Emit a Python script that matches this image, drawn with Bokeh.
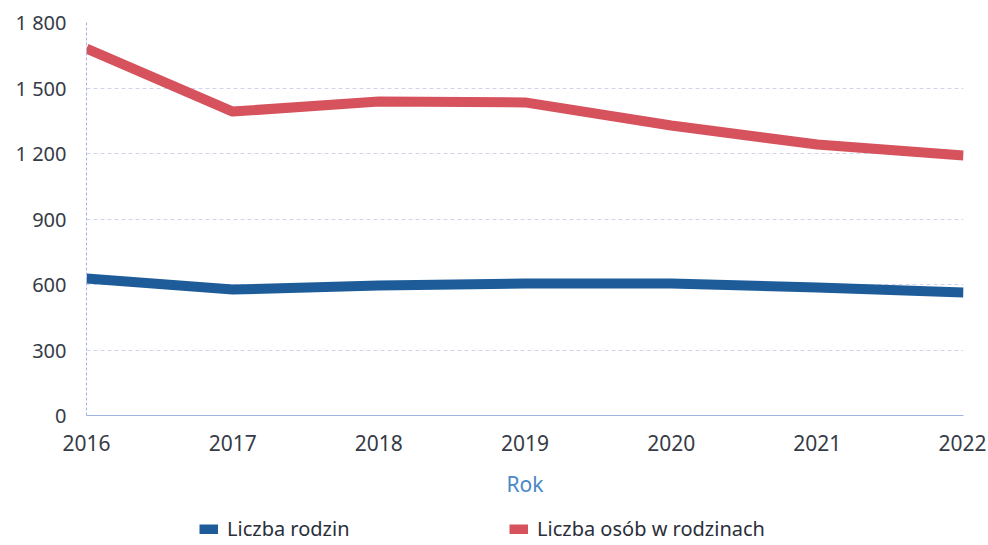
from bokeh.plotting import figure
from bokeh.models import Range1d, FixedTicker, Legend, LegendItem
from bokeh.layouts import column
from bokeh.embed import file_html
from bokeh.resources import INLINE

years = [2016, 2017, 2018, 2019, 2020, 2021, 2022]
rodziny = [627, 577, 595, 605, 605, 586, 563]
osoby = [1681, 1392, 1438, 1434, 1328, 1241, 1191]
y_ticks = [0, 300, 600, 900, 1200, 1500, 1800]
y_tick_labels = ["0", "300", "600", "900", "1 200", "1 500", "1 800"]
series_names = ["Liczba rodzin", "Liczba osób w rodzinach"]
x_title = "Rok"

FONT = "Noto Sans"
BLUE = "#1d5c99"
RED = "#d6525d"
W = 986

p = figure(width=W, height=515, output_backend="svg", toolbar_location=None,
           x_range=Range1d(2016, 2022), y_range=Range1d(0, 1800),
           min_border_left=86, min_border_right=W - 963, min_border_top=22,
           min_border_bottom=100)
p.outline_line_color = None

r1 = p.line(years, rodziny, line_color=BLUE, line_width=10)
r2 = p.line(years, osoby, line_color=RED, line_width=10)

# axes
p.xaxis.ticker = FixedTicker(ticks=years)
p.xaxis.axis_label = x_title
p.xaxis.axis_label_text_font = FONT
p.xaxis.axis_label_text_font_style = "normal"
p.xaxis.axis_label_text_font_size = "21px"
p.xaxis.axis_label_text_color = "#4a88c7"
p.xaxis.axis_label_standoff = 16
p.xaxis.major_label_text_font = FONT
p.xaxis.major_label_text_font_size = "21px"
p.xaxis.major_label_text_color = "#363b46"
p.xaxis.major_label_standoff = 13
p.xaxis.axis_line_color = "#9fb4e0"
p.xaxis.major_tick_line_color = None
p.xaxis.minor_tick_line_color = None

p.yaxis.ticker = FixedTicker(ticks=y_ticks)
p.yaxis.major_label_overrides = {t: l for t, l in zip(y_ticks, y_tick_labels)}
p.yaxis.major_label_text_font = FONT
p.yaxis.major_label_text_font_size = "20px"
p.yaxis.major_label_text_color = "#363b46"
p.yaxis.major_label_standoff = 14
p.yaxis.axis_line_color = "#a8b4e6"
p.yaxis.axis_line_dash = "3 2"
p.yaxis.major_tick_line_color = None
p.yaxis.minor_tick_line_color = None

p.xgrid.grid_line_color = None
p.ygrid.grid_line_color = "#d0d4ee"
p.ygrid.grid_line_dash = "4 3"

# legend row (separate strip below the chart; its frame aligns with the chart frame)
lg = figure(width=W, height=30, output_backend="svg", toolbar_location=None,
            x_range=Range1d(0, 1), y_range=Range1d(0, 1),
            x_axis_type=None, y_axis_type=None,
            min_border_left=86, min_border_right=W - 963, min_border_top=0, min_border_bottom=0)
lg.outline_line_color = None
lr1 = lg.line(years, rodziny, line_color=BLUE, line_width=10)  # outside the range: legend swatch only
lr2 = lg.line(years, osoby, line_color=RED, line_width=10)

leg_kw = dict(orientation="horizontal", glyph_width=19, glyph_height=10,
              label_text_font=FONT, label_text_font_size="20px",
              label_text_color="#2a2f3a", border_line_color=None,
              background_fill_alpha=0, padding=0, margin=0, label_standoff=9)
leg1 = Legend(items=[LegendItem(label=series_names[0], renderers=[lr1])],
              location=(199 - 86, 3), **leg_kw)
leg2 = Legend(items=[LegendItem(label=series_names[1], renderers=[lr2])],
              location=(509 - 86, 3), **leg_kw)
lg.add_layout(leg1, "center")
lg.add_layout(leg2, "center")

layout = column(p, lg, spacing=0)
open("out.html", "w").write(file_html(layout, INLINE))
